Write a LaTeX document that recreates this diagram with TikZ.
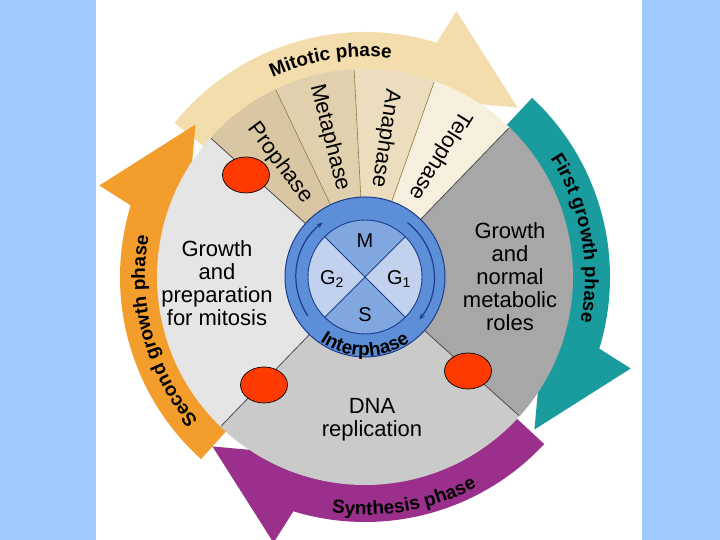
\documentclass[tikz,border=0pt]{standalone}
\usepackage{fontspec}
\setmainfont{Liberation Sans}
\usepackage{tikz}
\usetikzlibrary{arrows.meta, decorations.text, shapes.geometric}

\definecolor{bgblue}{HTML}{9FCBFE}
\definecolor{mitband}{HTML}{F4DDAC}
\definecolor{tealband}{HTML}{1A9C9E}
\definecolor{purpband}{HTML}{9B2F8C}
\definecolor{orangeband}{HTML}{F29D2C}
\definecolor{prophase}{HTML}{D9C7A3}
\definecolor{metaphase}{HTML}{E1D0AE}
\definecolor{anaphase}{HTML}{EBDDBE}
\definecolor{telophase}{HTML}{F7EFDD}
\definecolor{gonefill}{HTML}{A7A7A7}
\definecolor{gtwofill}{HTML}{E5E5E5}
\definecolor{sfill}{HTML}{CACACA}
\definecolor{ringblue}{HTML}{5C8FD8}
\definecolor{quaddark}{HTML}{80A7E0}
\definecolor{quadlight}{HTML}{C2D2EE}
\definecolor{navy}{HTML}{1C3C8C}
\definecolor{spotred}{HTML}{FF3A00}
\definecolor{wedgeline}{HTML}{8A7A3C}

\newcommand{\bandfont}{\fontsize{19}{19}\selectfont\bfseries}
% colour, tail angle, head base angle, tip angle
\newcommand{\cyclearrow}[4]{%
  \fill[#1] (#2:206) arc[start angle=#2, end angle=#3, radius=206]
    -- (#3:206) -- ({#3-2}:188) -- (#4:228) -- ({#3-2}:281) -- (#3:245)
    arc[start angle=#3, end angle=#2, radius=245] -- cycle;}

\begin{document}
\begin{tikzpicture}[x=1pt,y=1pt,
  spoke/.style={draw=black!70, line width=0.8pt},
  divider/.style={draw=wedgeline, line width=0.6pt},
  bodytext/.style={align=center, font=\fontsize{22}{23}\selectfont},
  wedgelabel/.style={font=\fontsize{22}{22}\selectfont},
  quadlabel/.style={font=\fontsize{20}{20}\selectfont},
  ringarrow/.style={draw=navy, line width=1.2pt, -{Stealth[length=6pt,width=5pt]}},
  redspot/.style={ellipse, draw=black, line width=0.7pt, fill=spotred, minimum width=47pt, minimum height=36pt}]
\useasboundingbox (0,0) rectangle (720,540);
\fill[bgblue] (0,0) rectangle (720,540);
\fill[white] (96,0) rectangle (642,540);

\begin{scope}[shift={(365,263)}]
% the four phase arrows
\cyclearrow{mitband}{141}{73}{48}
\cyclearrow{tealband}{47}{-17}{-42}
\cyclearrow{purpband}{-43}{-107}{-132}
\cyclearrow{orangeband}{228}{163}{138}

% sectors of the cycle
\fill[gonefill] (0,0) -- (-42:208) arc[start angle=-42, end angle=46, radius=208] -- cycle;
\fill[gtwofill] (0,0) -- (138:208) arc[start angle=138, end angle=226, radius=208] -- cycle;
\fill[sfill] (0,0) -- (226:208) arc[start angle=226, end angle=318, radius=208] -- cycle;
\foreach \a/\b/\c in {46/70.5/telophase, 70.5/93/anaphase, 93/115.5/metaphase, 115.5/138/prophase}
  \fill[\c] (0,0) -- (\a:208) arc[start angle=\a, end angle=\b, radius=208] -- cycle;
\foreach \a in {46,138,226,318} \draw[spoke] (\a:80) -- (\a:207);
\foreach \a in {70.5,93,115.5} \draw[divider] (\a:80) -- (\a:207);

% interphase ring
\fill[ringblue] (0,0) circle[radius=80];
\draw[navy, line width=1pt] (0,0) circle[radius=80];
\foreach \a/\c in {45/quaddark, 135/quadlight, 225/quaddark, 315/quadlight}
  \fill[\c] (0,0) -- (\a:57) arc[start angle=\a, end angle=\a+90, radius=57] -- cycle;
\draw[navy, line width=0.9pt] (0,0) circle[radius=57];
\draw[navy, line width=0.9pt] (45:57) -- (225:57) (135:57) -- (315:57);
\draw[ringarrow] (214:69) arc[start angle=214, end angle=128, radius=69];
\draw[ringarrow] (52:69) arc[start angle=52, end angle=-38, radius=69];
\path[decorate, decoration={text along path, text align=center,
  text={|\fontsize{19}{19}\selectfont\bfseries|Interphase}}] (200:79) arc[start angle=200, end angle=340, radius=79];

\node[quadlabel] (mlab) at (0,36) {M};
\node[quadlabel] (gtwolab) at (-33,-2) {G\textsubscript{2}};
\node[quadlabel] (gonelab) at (34,-2) {G\textsubscript{1}};
\node[quadlabel] (slab) at (0,-38) {S};

% texts on the arrows
\path[decorate, decoration={text along path, text align=center,
  text={|\bandfont|Mitotic phase}}] (126:220) arc[start angle=126, end angle=72, radius=220];
\path[decorate, decoration={text along path, text align=center,
  text={|\bandfont|First growth phase}}] (42:220) arc[start angle=42, end angle=-21, radius=220];
\path[decorate, decoration={text along path, text align=center,
  text={|\bandfont|Synthesis phase}}] (248:238) arc[start angle=248, end angle=312, radius=238];
\path[decorate, decoration={text along path, text align=center,
  text={|\bandfont|Second growth phase}}] (230:220) arc[start angle=230, end angle=160, radius=220];

\node[wedgelabel, rotate=-53.25] (pro) at (126.75:142) {Prophase};
\node[wedgelabel, rotate=-75.75] (meta) at (104.25:144) {Metaphase};
\node[wedgelabel, rotate=-98.25] (ana) at (81.75:140) {Anaphase};
\node[wedgelabel, rotate=-121.75] (telo) at (58.25:143) {Telophase};
\end{scope}

\node[bodytext] (gtwotext) at (217,257) {Growth\\and\\preparation\\for mitosis};
\node[bodytext] (gonetext) at (510,263) {Growth\\and\\normal\\metabolic\\roles};
\node[bodytext] (stext) at (372,120) {DNA\\replication};

\node[redspot] (spotone) at (246,365) {};
\node[redspot] (spottwo) at (264,155) {};
\node[redspot] (spotthree) at (468,169) {};
\end{tikzpicture}
\end{document}
